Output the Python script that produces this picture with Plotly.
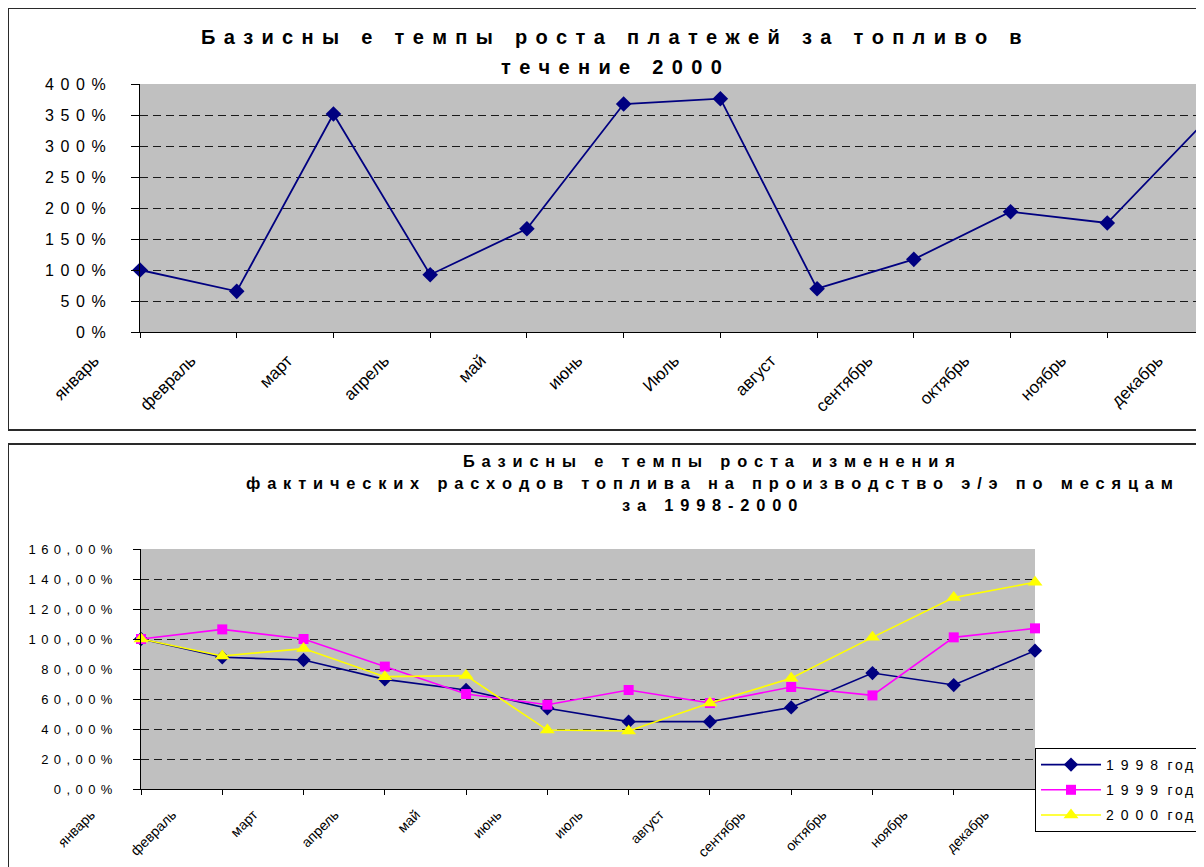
import plotly.graph_objects as go

# The page has an 8px body margin, so the figure starts at (8, 8).
OFF = 8
W, H = 1204 - OFF, 867 - OFF
FONT = "Arial, 'Liberation Sans', sans-serif"

# ---------------- data ----------------
months_top = ["январь", "февраль", "март", "апрель", "май", "июнь",
              "Июль", "август", "сентябрь", "октябрь", "ноябрь", "декабрь"]
payments_2000 = [100.0, 65.6, 351.6, 92.4, 166.6, 367.7,
                 376.3, 69.8, 117.2, 194.0, 175.8, 338.0]

months_bottom = ["январь", "февраль", "март", "апрель", "май", "июнь",
                 "июль", "август", "сентябрь", "октябрь", "ноябрь", "декабрь"]
fuel_1998 = [100.0, 87.8, 86.0, 73.1, 66.0, 53.8, 44.9, 44.9, 54.4, 77.3, 69.3, 92.2]
fuel_1999 = [100.0, 106.4, 100.0, 81.6, 63.3, 56.2, 66.0, 57.3, 68.0, 62.4, 101.1, 107.1]
fuel_2000 = [100.0, 88.7, 93.6, 74.9, 75.6, 39.3, 38.7, 57.3, 73.8, 101.1, 127.6, 137.8]
series_years = ["1998", "1999", "2000"]
series_word = "год"

top_y_ticks = [0, 50, 100, 150, 200, 250, 300, 350, 400]
top_y_labels = ["0%", "50%", "100%", "150%", "200%", "250%", "300%", "350%", "400%"]
bottom_y_ticks = [0, 20, 40, 60, 80, 100, 120, 140, 160]
bottom_y_labels = ["0,00%", "20,00%", "40,00%", "60,00%", "80,00%",
                   "100,00%", "120,00%", "140,00%", "160,00%"]

top_title = ["Базисны е темпы роста платежей за топливо в", "течение 2000"]
bottom_title = ["Базисны е темпы роста изменения",
                "фактических расходов топлива на производство э/э по месяцам",
                "за 1998-2000"]


# ---------------- helpers ----------------
def spread(text, gap, word_gap=None):
    """Excel-like expanded character spacing."""
    if word_gap is None:
        word_gap = gap + " " + gap
    return word_gap.join(gap.join(w) for w in text.split(" "))


def fx(px):  # page pixel -> paper fraction
    return (px - OFF) / W


def fy(px):
    return 1 - (px - OFF) / H


NAVY = "#000080"
MAGENTA = "#FF00FF"
YELLOW = "#FFFF00"
GRID = "#1a1a1a"
DASH = "8px,5px"
PA_GREY = "#808080"

fig = go.Figure()

# top chart
fig.add_trace(go.Scatter(
    x=months_top, y=payments_2000, xaxis="x", yaxis="y",
    mode="lines+markers", showlegend=False, cliponaxis=False,
    line=dict(color=NAVY, width=1.8),
    marker=dict(symbol="diamond", size=12, color=NAVY),
))

# bottom chart
styles = [
    (fuel_1998, NAVY, "diamond", 11),
    (fuel_1999, MAGENTA, "square", 10),
    (fuel_2000, YELLOW, "triangle-up", 13),
]
for year, (vals, col, sym, sz) in zip(series_years, styles):
    label = spread(year, "\u2002") + "\u2002\u2006" + spread(series_word, "\u2006")
    fig.add_trace(go.Scatter(
        x=months_bottom, y=vals, xaxis="x2", yaxis="y2",
        name=label, legendgroup=year,
        mode="lines+markers", cliponaxis=False,
        line=dict(color=col, width=1.6),
        marker=dict(symbol=sym, size=sz, color=col),
    ))

common_x = dict(type="category", tickangle=-45, ticks="outside", tickcolor="black",
                showline=True, linecolor="black", linewidth=1, showgrid=False,
                zeroline=False, fixedrange=True)
common_y = dict(ticks="outside", tickcolor="black", showline=True, linecolor="black",
                linewidth=1, showgrid=True, gridcolor=GRID, gridwidth=1, griddash=DASH,
                zeroline=False, tickmode="array", fixedrange=True)
frame_axis = dict(showline=True, linecolor=PA_GREY, linewidth=1, ticks="",
                  showticklabels=False, showgrid=False, zeroline=False,
                  layer="below traces", fixedrange=True)

fig.update_layout(
    width=W, height=H,
    margin=dict(l=0, r=0, t=0, b=0, autoexpand=False),
    paper_bgcolor="white", plot_bgcolor="#C0C0C0",
    font=dict(family=FONT, color="black"),
    xaxis=dict(common_x, domain=[fx(140), 1.0], range=[0, 11], anchor="y",
               ticklen=5, ticklabelshift=-46, ticklabelstandoff=6,
               tickfont=dict(size=17, family=FONT)),
    yaxis=dict(common_y, domain=[fy(332), fy(84)], range=[0, 400], anchor="x",
               tickvals=top_y_ticks,
               ticktext=[spread(t, "\u2005\u2006") for t in top_y_labels],
               ticklen=8, ticklabelstandoff=22, tickfont=dict(size=16, family=FONT)),
    xaxis2=dict(common_x, domain=[fx(141), fx(1035)], range=[0, 11], anchor="y2",
                ticklen=5, ticklabelshift=-50, ticklabelstandoff=6,
                tickfont=dict(size=14, family=FONT)),
    yaxis2=dict(common_y, domain=[fy(789), fy(549)], range=[0, 160], anchor="x2",
                tickvals=bottom_y_ticks,
                ticktext=[spread(t, "\u2005\u2006") for t in bottom_y_labels],
                ticklen=7, ticklabelstandoff=18, tickfont=dict(size=13, family=FONT)),
    # grey plot-area frame lines (top / right), drawn under the data
    xaxis3=dict(frame_axis, overlaying="x", anchor="y", side="top", range=[0, 1]),
    xaxis4=dict(frame_axis, overlaying="x2", anchor="y2", side="top", range=[0, 1]),
    yaxis3=dict(frame_axis, overlaying="y2", anchor="x2", side="right", range=[0, 1]),
    legend=dict(x=fx(1035), y=fy(748), xanchor="left", yanchor="top",
                bgcolor="white", bordercolor="black", borderwidth=1,
                font=dict(size=14, family=FONT), itemwidth=60,
                tracegroupgap=4, traceorder="grouped"),
)

# titles
for text, y in zip(top_title, [37, 67]):
    fig.add_annotation(text="<b>" + spread(text, "\u2005\u2006") + "</b>",
                       xref="paper", yref="paper", x=fx(611), y=fy(y),
                       showarrow=False, xanchor="center", yanchor="middle",
                       font=dict(size=20, family=FONT, color="black"))
for text, y in zip(bottom_title, [461, 483, 505]):
    fig.add_annotation(text="<b>" + spread(text, "\u2005\u2006") + "</b>",
                       xref="paper", yref="paper", x=fx(709), y=fy(y),
                       showarrow=False, xanchor="center", yanchor="middle",
                       font=dict(size=16.4, family=FONT, color="black"))

# chart frames (cropped on the right / bottom)
BORDER = dict(color="#2a2a2a", width=2)
for x0, y0, x1, y1 in [(8, 8, 1210, 8), (8, 8, 8, 430), (8, 430, 1210, 430),
                       (8, 444, 1210, 444), (8, 444, 8, 875)]:
    fig.add_shape(type="line", xref="paper", yref="paper",
                  x0=fx(x0), y0=fy(y0), x1=fx(x1), y1=fy(y1), line=BORDER, layer="above")

fig.write_html("out.html")
